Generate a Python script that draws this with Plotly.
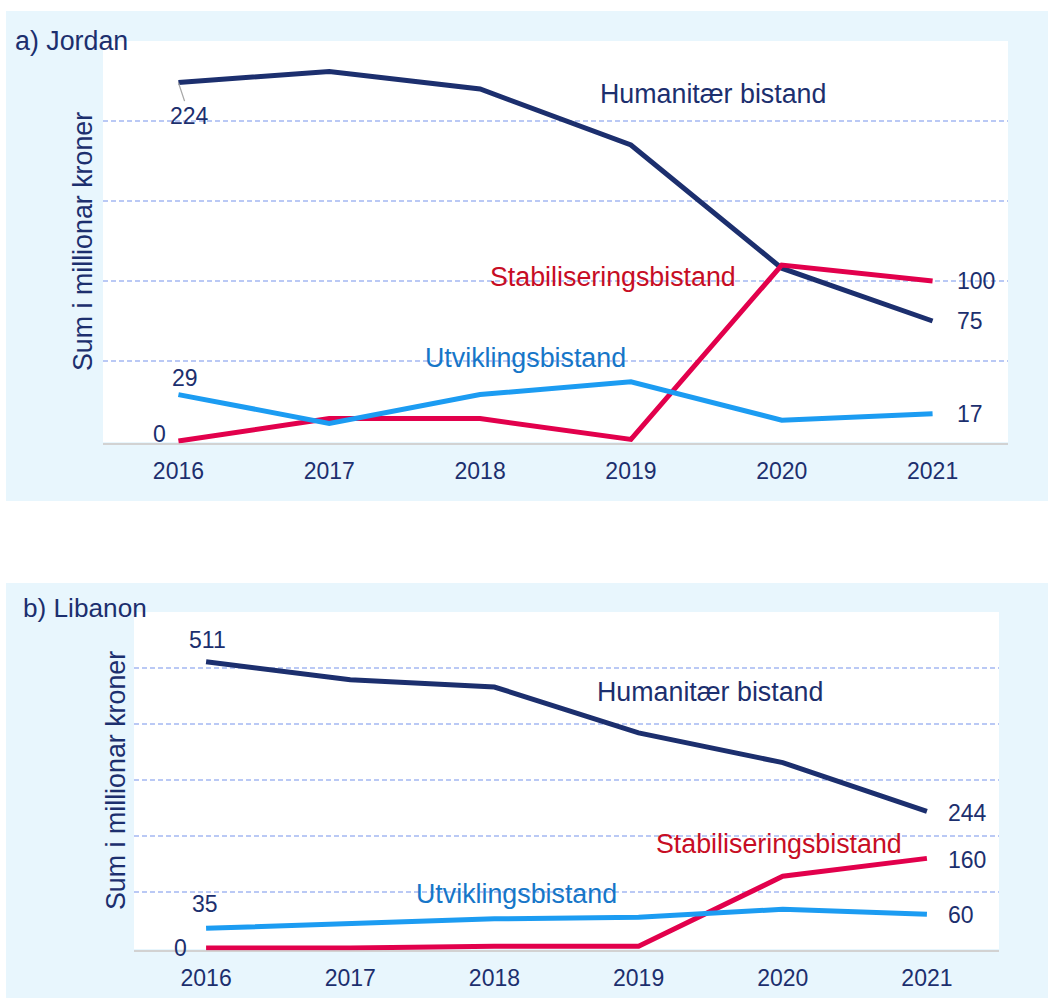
import plotly.graph_objects as go

years = [2016, 2017, 2018, 2019, 2020, 2021]

# a) Jordan (million NOK)
jordan_hum = [224, 231, 220, 185, 108, 75]
jordan_stab = [0, 14, 14, 1, 110, 100]
jordan_utv = [29, 11, 29, 37, 13, 17]

# b) Libanon (million NOK)
libanon_hum = [511, 479, 466, 384, 331, 244]
libanon_stab = [0, 0, 3, 3, 128, 160]
libanon_utv = [35, 43, 52, 55, 69, 60]

grid_a = [50, 100, 150, 200, 250]
grid_b = [100, 200, 300, 400, 500, 600]

series_names = ["Humanitær bistand", "Stabiliseringsbistand", "Utviklingsbistand"]
panel_titles = ["a) Jordan", "b) Libanon"]
y_title = "Sum i millionar kroner"

W, H = 1048, 998
NAVY = "#1c2f6e"
RED = "#e2004c"
LBLUE = "#1c9cf2"
RED_TXT = "#c70d24"
LBLUE_TXT = "#1676c8"
GRID = "#bac9f5"
PANEL = "#e8f6fd"
FONT = "Liberation Sans, Arial, sans-serif"


def px(x):
    return x / W


def py(y):
    return 1 - y / H


fig = go.Figure()

line_colors = [NAVY, RED, LBLUE]
for vals, c in zip([jordan_hum, jordan_stab, jordan_utv], line_colors):
    fig.add_trace(go.Scatter(x=years, y=vals, mode="lines", line=dict(color=c, width=5),
                             xaxis="x", yaxis="y", showlegend=False, hoverinfo="skip"))
for vals, c in zip([libanon_hum, libanon_stab, libanon_utv], line_colors):
    fig.add_trace(go.Scatter(x=years, y=vals, mode="lines", line=dict(color=c, width=5),
                             xaxis="x2", yaxis="y2", showlegend=False, hoverinfo="skip"))

xcommon = dict(tickmode="array", tickvals=years, ticktext=[str(y) for y in years],
               showgrid=False, zeroline=False, showline=True, linecolor="#d2d2d2", linewidth=2,
               ticks="outside", ticklen=6, tickcolor="rgba(0,0,0,0)", layer="below traces",
               tickfont=dict(size=23, color=NAVY, family=FONT), range=[2015.5, 2021.5], fixedrange=True)
ycommon = dict(showticklabels=False, showgrid=True, gridcolor=GRID, gridwidth=1.5, griddash="5px,3px",
               zeroline=False, showline=False, ticks="", layer="below traces", fixedrange=True,
               tickmode="array")

fig.update_layout(
    width=W, height=H,
    margin=dict(l=0, r=0, t=0, b=0),
    paper_bgcolor="white", plot_bgcolor="rgba(0,0,0,0)",
    font=dict(family=FONT, color=NAVY),
    xaxis=dict(xcommon, domain=[px(103), px(1008)], anchor="y"),
    yaxis=dict(ycommon, domain=[py(443.4), py(41)], range=[-1.5, 250], tickvals=grid_a, anchor="x"),
    xaxis2=dict(xcommon, domain=[px(134), px(999)], anchor="y2"),
    yaxis2=dict(ycommon, domain=[py(950.2), py(612)], range=[-4, 600], tickvals=grid_b, anchor="x2"),
    showlegend=False,
)

# panel backgrounds and white plot areas
shapes = [
    dict(type="rect", xref="paper", yref="paper", x0=px(6), x1=1, y0=py(501), y1=py(11),
         fillcolor=PANEL, line=dict(width=0), layer="below"),
    dict(type="rect", xref="paper", yref="paper", x0=px(6), x1=1, y0=0, y1=py(583),
         fillcolor=PANEL, line=dict(width=0), layer="below"),
    dict(type="rect", xref="paper", yref="paper", x0=px(103), x1=px(1008), y0=py(442), y1=py(41),
         fillcolor="white", line=dict(width=0), layer="below"),
    dict(type="rect", xref="paper", yref="paper", x0=px(134), x1=px(999), y0=py(949), y1=py(612),
         fillcolor="white", line=dict(width=0), layer="below"),
]
fig.update_layout(shapes=shapes)

ann = []
TXT = 26.8
NUM = 23


def pann(text, x, y, color=NAVY, size=TXT, xanchor="center", angle=0):
    return dict(text=text, xref="paper", yref="paper", x=px(x), y=py(y), xanchor=xanchor,
                yanchor="middle", showarrow=False, textangle=angle, font=dict(size=size, color=color))


# titles
ann.append(pann(panel_titles[0], 13, 41, xanchor="left"))
ann.append(pann(panel_titles[1], 21, 608, xanchor="left", size=26.2))
# y titles
ann.append(pann(y_title, 83, 241, angle=-90))
ann.append(pann(y_title, 116, 781, angle=-90))

# series labels
lab_cols = [NAVY, RED_TXT, LBLUE_TXT]
pos_a = [(713, 94), (613, 277), (525, 358)]
pos_b = [(710, 692), (779, 844), (516, 894)]
for name, c, (x, y) in zip(series_names, lab_cols, pos_a):
    ann.append(pann(name, x, y, color=c))
for name, c, (x, y) in zip(series_names, lab_cols, pos_b):
    ann.append(pann(name, x, y, color=c))


def vann(text, xref, yref, x, y, xs, ys, xanchor="center"):
    return dict(text=text, xref=xref, yref=yref, x=x, y=y, xshift=xs, yshift=ys, xanchor=xanchor,
                yanchor="middle", showarrow=False, font=dict(size=NUM, color=NAVY))


# value labels, panel a
ann.append(dict(text=str(jordan_hum[0]), xref="x", yref="y", x=years[0], y=jordan_hum[0],
                showarrow=True, arrowhead=0, arrowwidth=1.3, arrowcolor="#a8a8a8", ax=11, ay=33,
                font=dict(size=NUM, color=NAVY)))
ann.append(vann(str(jordan_utv[0]), "x", "y", years[0], jordan_utv[0], 7, 17))
ann.append(vann(str(jordan_stab[0]), "x", "y", years[0], jordan_stab[0], -19, 7))
for vals in [jordan_stab, jordan_hum, jordan_utv]:
    ann.append(vann(str(vals[-1]), "x", "y", years[-1], vals[-1], 22, 0, xanchor="left"))

# value labels, panel b
ann.append(vann(str(libanon_hum[0]), "x2", "y2", years[0], libanon_hum[0], 1, 22))
ann.append(vann(str(libanon_utv[0]), "x2", "y2", years[0], libanon_utv[0], -1, 24))
ann.append(vann(str(libanon_stab[0]), "x2", "y2", years[0], libanon_stab[0], -26, 0))
for vals, ys in [(libanon_hum, -2), (libanon_stab, -2), (libanon_utv, -1)]:
    ann.append(vann(str(vals[-1]), "x2", "y2", years[-1], vals[-1], 19, ys, xanchor="left"))

fig.update_layout(annotations=ann)

fig.write_html("out.html", config={"displayModeBar": False},
               post_script="document.body.style.margin='0';")
